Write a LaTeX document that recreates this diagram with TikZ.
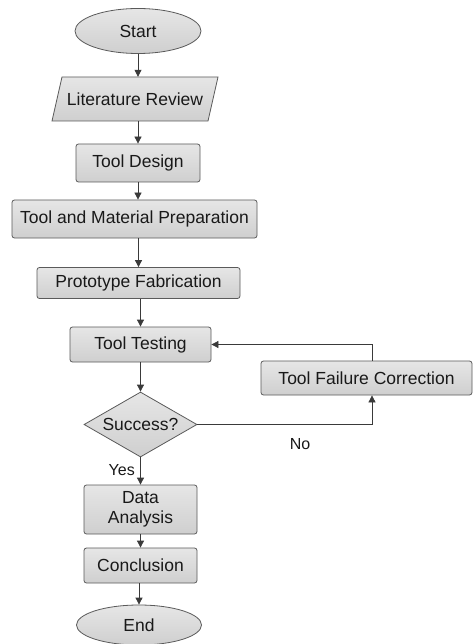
\documentclass[tikz,border=0pt]{standalone}
\usepackage{fontspec}
\setmainfont{Liberation Sans}
\usetikzlibrary{arrows.meta,shapes.geometric,shadings}
\definecolor{boxtop}{HTML}{E6E6E6}
\definecolor{boxbot}{HTML}{CFCFCF}
\definecolor{edge}{HTML}{5A5A5A}
\definecolor{linec}{HTML}{3A3A3A}
\begin{document}
\begin{tikzpicture}[x=1pt,y=-1pt,
  fill style/.style={draw=edge, line width=0.8pt, top color=boxtop, bottom color=boxbot},
  base/.style={fill style, font=\fontsize{17.5}{20.5}\selectfont, text=black!90, inner sep=0pt, align=center},
  procbox/.style={base, rectangle, rounded corners=2.5pt},
  term/.style={base, ellipse},
  decide/.style={base, diamond, aspect=1.74},
  plain/.style={font=\fontsize{17.5}{20.5}\selectfont, text=black!90, inner sep=0pt, align=center},
  conn/.style={draw=linec, line width=0.8pt, -{Triangle[length=7pt,width=7pt]}},
  lab/.style={font=\fontsize{16}{19}\selectfont, text=black!90}]
\useasboundingbox (0,0) rectangle (474,644);
\fill[white] (0,0) rectangle (474,644);
\node[term, minimum width=126pt, minimum height=45pt] (start) at (138,31) {Start};
\path[fill style] (62,77) -- (218,77) -- (208,121) -- (52,121) -- cycle;
\node[plain, minimum width=146pt, minimum height=44pt] (lit) at (135,99) {Literature Review};
\node[procbox, minimum width=124pt, minimum height=38pt] (design) at (138,163) {Tool Design};
\node[procbox, minimum width=245pt, minimum height=38pt] (prep) at (134.5,219) {Tool and Material Preparation};
\node[procbox, minimum width=203pt, minimum height=31pt] (proto) at (138.5,283) {Prototype Fabrication};
\node[procbox, minimum width=141pt, minimum height=35pt] (test) at (140.5,344.5) {Tool Testing};
\node[decide, minimum width=113pt, minimum height=65pt] (succ) at (140.5,424.5) {Success?};
\node[procbox, minimum width=211pt, minimum height=34pt] (fail) at (366.5,378) {Tool Failure Correction};
\node[procbox, minimum width=113pt, minimum height=49pt] (data) at (140.5,509.5) {Data\\Analysis};
\node[procbox, minimum width=113pt, minimum height=35pt] (concl) at (140.5,565.5) {Conclusion};
\node[term, minimum width=125pt, minimum height=40pt] (end) at (139,625) {End};
\coordinate (turnA) at (372,424.5);
\coordinate (turnB) at (372,344.5);
\draw[conn] (start) -- (start |- lit.north);
\draw[conn] (lit.south -| design) -- (design);
\draw[conn] (design) -- (design |- prep.north);
\draw[conn] (prep.south -| proto) -- (proto);
\draw[conn] (proto.south -| test) -- (test);
\draw[conn] (test) -- (succ);
\draw[conn] (succ) -- node[lab, pos=0.45, left=2pt] {Yes} (data);
\draw[conn] (data) -- (concl);
\draw[conn] (concl.south -| end) -- (end);
\draw[conn] (succ.east) -- (turnA) -- (turnA |- fail.south);
\draw[conn] (turnA |- fail.north) -- (turnB) -- (test.east);
\node[lab] (no) at (300,444) {No};
\end{tikzpicture}
\end{document}
